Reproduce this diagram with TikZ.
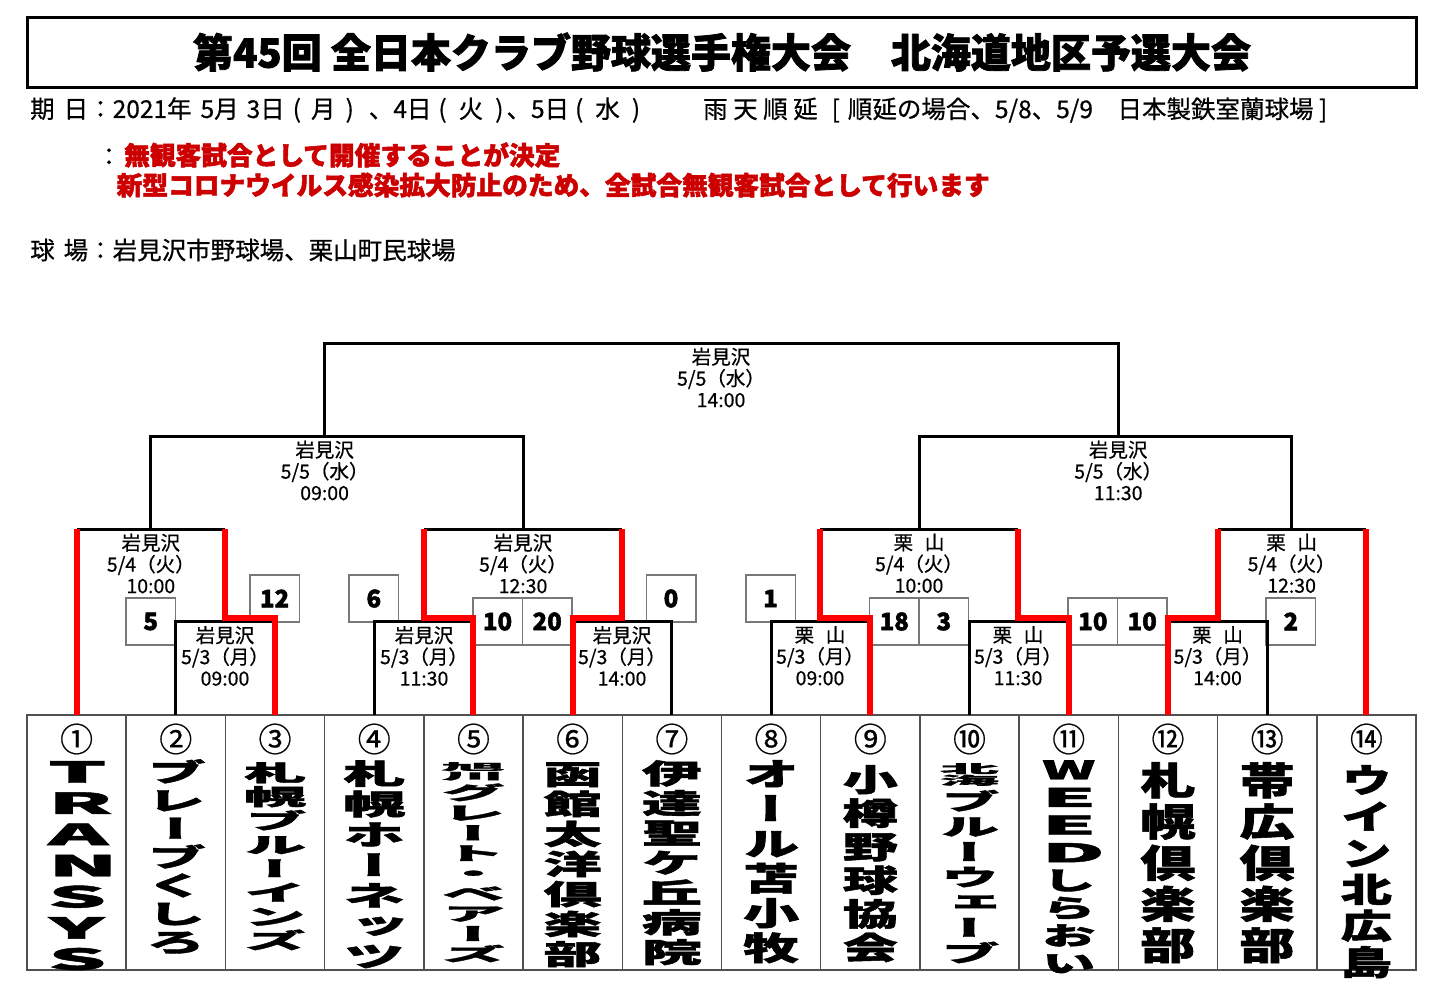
\documentclass[tikz,border=0pt]{standalone}
\usepackage{fontspec}
\usepackage{graphicx}
\setmainfont{Noto Sans CJK JP}
\newfontfamily\heavyfont{Noto Sans CJK JP}[FakeBold=2]
\newfontfamily\midfont{Noto Sans CJK JP}[FakeBold=0.6]
\newfontfamily\tatefont{Noto Sans CJK JP}[FakeBold=1.5,RawFeature=+vert]
\usetikzlibrary{math}
\definecolor{memored}{RGB}{204,0,0}
\definecolor{framegray}{RGB}{80,80,80}
\definecolor{scoregray}{RGB}{120,120,120}

\newcommand\tatebox[3]{\resizebox*{#1}{#2}{\parbox{1em}{\centering
  \baselineskip=1.08em\lineskiplimit=-\maxdimen #3}}}
\newcommand\twoinone[2]{\scalebox{1}[0.5]{\parbox[b]{1em}{\centering
  \baselineskip=1em\lineskiplimit=-\maxdimen #1\\#2}}}
\newcommand\wl[2][1.6]{\scalebox{#1}[1]{#2}}

\begin{document}
\begin{tikzpicture}[x=1pt, y=-1pt,
  bline/.style={line width=3pt, black},
  win/.style={line width=6pt, red},
  game/.style={anchor=north, yshift=-4.5pt, inner sep=0pt, align=center,
    font=\midfont\fontsize{19.5}{21.5}\selectfont},
  score/.style={draw=scoregray, line width=1.5pt, minimum width=49.5pt,
    minimum height=47pt, inner sep=0pt,
    font=\heavyfont\bfseries\fontsize{24}{24}\selectfont},
  num/.style={inner sep=0pt, font=\midfont\fontsize{33}{33}\selectfont},
  team/.style={anchor=north, inner sep=0pt,
    font=\tatefont\bfseries\fontsize{30}{32}\selectfont},
  memo/.style={anchor=west, inner sep=0pt,
    font=\midfont\fontsize{24.5}{24.5}\selectfont},
  alert/.style={anchor=west, inner sep=0pt, text=memored,
    font=\heavyfont\bfseries\fontsize{25.7}{25.7}\selectfont}]
  \tikzmath{%
    \boxl = 27; \boxr = 1416; \boxt = 715; \boxb = 970;
    \colw = (\boxr - \boxl)/14;
  }
  \useasboundingbox (0,0) rectangle (1449,1002);

  % heading
  \draw[line width=3pt] (27,17) rectangle (1416,87);
  \node[font=\heavyfont\bfseries\fontsize{40}{40}\selectfont] (title) at (722,52)
    {第45回 全日本クラブ野球選手権大会　北海道地区予選大会};
  \node[memo] (dates) at (30,110) {期\hspace{9pt}日：2021年\hspace{9pt}5月\hspace{8pt}3日\hspace{8pt}(\hspace{10pt}月\hspace{10pt})\hspace{15pt}、4日\hspace{7pt}(\hspace{12pt}火\hspace{12pt})\hspace{3pt}、5日\hspace{6pt}(\hspace{12pt}水\hspace{12pt})};
  \node[memo] (rain) at (703,110) {雨 天 順 延\hspace{14pt}[\hspace{8pt}順延の場合、5/8、5/9　日本製鉄室蘭球場 ]};
  \node[inner sep=0pt, font=\midfont\fontsize{24.5}{24.5}\selectfont] (colon) at (109,157) {：};
  \node[alert] (alert1) at (124,155) {無観客試合として開催することが決定};
  \node[alert] (alert2) at (116.5,185) {新型コロナウイルス感染拡大防止のため、全試合無観客試合として行います};
  \node[memo] (venue) at (30,250) {球\hspace{9pt}場：岩見沢市野球場、栗山町民球場};

  % team cells
  \draw[framegray, line width=2pt] (\boxl,\boxt) rectangle (\boxr,\boxb);
  \foreach \i in {1,...,13}
    \draw[framegray, line width=1.5pt] ({\boxl+\i*\colw},\boxt) -- ({\boxl+\i*\colw},\boxb);
  \foreach \i/\c in {1/①,2/②,3/③,4/④,5/⑤,6/⑥,7/⑦,8/⑧,9/⑨,10/⑩,11/⑪,12/⑫,13/⑬,14/⑭} {
    \coordinate (T\i) at ({\boxl+(\i-0.5)*\colw},\boxt);
    \node[num] (c\i) at ({\boxl+(\i-0.5)*\colw},739) {\c};
  }

  % games
  \coordinate (A) at (225,621.5);
  \coordinate (B) at (424,621.5);
  \coordinate (C) at (622,621.5);
  \coordinate (D) at (820,621.5);
  \coordinate (E) at (1018,621.5);
  \coordinate (F) at (1217.5,621.5);
  \coordinate (G) at (150.8,529);
  \coordinate (H) at (523,529);
  \coordinate (I) at (919,529);
  \coordinate (J) at (1291.6,529);
  \coordinate (K) at (324.6,436);
  \coordinate (L) at (1118.2,436);
  \coordinate (M) at (721,343);

  % scores
  \node[score] (s2) at (150.7,621.5) {5};
  \node[score] (s3) at (274.6,598.5) {12};
  \node[score] (s4) at (373.8,598.5) {6};
  \node[score] (s5) at (497.5,621.5) {10};
  \node[score] (s6) at (547.2,621.5) {20};
  \node[score] (s7) at (671,598.5) {0};
  \node[score] (s8) at (770.5,598.5) {1};
  \node[score] (s9) at (894.3,621.5) {18};
  \node[score] (s10) at (943.8,621.5) {3};
  \node[score] (s11) at (1092.9,621.5) {10};
  \node[score] (s12) at (1142.2,621.5) {10};
  \node[score] (s13) at (1290.9,621.5) {2};

  \draw[bline] (T2) |- (A -| T3);
  \draw[bline] (T4) |- (B -| T5);
  \draw[bline] (T7) |- (C -| T6);
  \draw[bline] (T8) |- (D -| T9);
  \draw[bline] (T10) |- (E -| T11);
  \draw[bline] (T13) |- (F -| T12);
  \draw[bline] (G -| T1) -- (A |- G);
  \draw[bline] (B |- H) -- (C |- H);
  \draw[bline] (D |- I) -- (E |- I);
  \draw[bline] (F |- J) -- (J -| T14);
  \draw[bline] (G) |- (K) -| (H);
  \draw[bline] (I) |- (L) -| (J);
  \draw[bline] (K) |- (M) -| (L);

  \draw[win] (T1) -- (G -| T1);
  \draw[win] (T3) |- ([yshift=3.5pt]A) -- (A |- G);
  \draw[win] (T5) |- ([yshift=3.5pt]B) -- (B |- H);
  \draw[win] (T6) |- ([yshift=3.5pt]C) -- (C |- H);
  \draw[win] (T9) |- ([yshift=3.5pt]D) -- (D |- I);
  \draw[win] (T11) |- ([yshift=3.5pt]E) -- (E |- I);
  \draw[win] (T12) |- ([yshift=3.5pt]F) -- (F |- J);
  \draw[win] (T14) -- (J -| T14);

  \node[game] (lA) at (A) {岩見沢\\5/3（月）\\09:00};
  \node[game] (lB) at (B) {岩見沢\\5/3（月）\\11:30};
  \node[game] (lC) at (C) {岩見沢\\5/3（月）\\14:00};
  \node[game] (lD) at (D) {栗\hspace{0.6em}山\\5/3（月）\\09:00};
  \node[game] (lE) at (E) {栗\hspace{0.6em}山\\5/3（月）\\11:30};
  \node[game] (lF) at (F) {栗\hspace{0.6em}山\\5/3（月）\\14:00};
  \node[game] (lG) at (G) {岩見沢\\5/4（火）\\10:00};
  \node[game] (lH) at (H) {岩見沢\\5/4（火）\\12:30};
  \node[game] (lI) at (I) {栗\hspace{0.6em}山\\5/4（火）\\10:00};
  \node[game] (lJ) at (J) {栗\hspace{0.6em}山\\5/4（火）\\12:30};
  \node[game] (lK) at (K) {岩見沢\\5/5（水）\\09:00};
  \node[game] (lL) at (L) {岩見沢\\5/5（水）\\11:30};
  \node[game] (lM) at (M) {岩見沢\\5/5（水）\\14:00};

  % team names
  \node[team] (n1) at ([yshift=-46pt]T1) {\tatebox{57pt}{209pt}{\wl{T}\\\wl{R}\\\wl{A}\\\wl{N}\\\wl{S}\\\wl{Y}\\\wl{S}}};
  \node[team] (n2) at ([yshift=-44pt]T2) {\tatebox{59pt}{195pt}{ブ\\レ\\ー\\ブ\\く\\し\\ろ}};
  \node[team] (n3) at ([yshift=-47pt]T3) {\tatebox{62pt}{188pt}{札\\幌\\ブ\\ル\\ー\\イ\\ン\\ズ}};
  \node[team] (n4) at ([yshift=-45pt]T4) {\tatebox{62pt}{208pt}{札\\幌\\ホ\\ー\\ネ\\ッ\\ツ}};
  \node[team] (n5) at ([yshift=-47pt]T5) {\tatebox{64pt}{200pt}{\twoinone{旭}{川}\\グ\\レ\\ー\\ト\\・\\ベ\\ア\\ー\\ズ}};
  \node[team] (n6) at ([yshift=-47pt]T6) {\tatebox{58pt}{205pt}{函\\館\\太\\洋\\倶\\楽\\部}};
  \node[team] (n7) at ([yshift=-45pt]T7) {\tatebox{60pt}{205pt}{伊\\達\\聖\\ケ\\丘\\病\\院}};
  \node[team] (n8) at ([yshift=-45pt]T8) {\tatebox{56pt}{203pt}{オ\\ー\\ル\\苫\\小\\牧}};
  \node[team] (n9) at ([yshift=-50pt]T9) {\tatebox{55pt}{197pt}{小\\樽\\野\\球\\協\\会}};
  \node[team] (n10) at ([yshift=-48pt]T10) {\tatebox{59pt}{200pt}{\twoinone{北}{海}\\ブ\\ル\\ー\\ウ\\ェ\\ー\\ブ}};
  \node[team] (n11) at ([yshift=-45pt]T11) {\tatebox{54pt}{213pt}{\wl[1.05]{W}\\\wl{E}\\\wl{E}\\\wl{D}\\し\\ら\\お\\い}};
  \node[team] (n12) at ([yshift=-47pt]T12) {\tatebox{55pt}{201pt}{札\\幌\\倶\\楽\\部}};
  \node[team] (n13) at ([yshift=-47pt]T13) {\tatebox{55pt}{201pt}{帯\\広\\倶\\楽\\部}};
  \node[team] (n14) at ([yshift=-50pt]T14) {\tatebox{51pt}{213pt}{ウ\\イ\\ン\\北\\広\\島}};
\end{tikzpicture}
\end{document}
